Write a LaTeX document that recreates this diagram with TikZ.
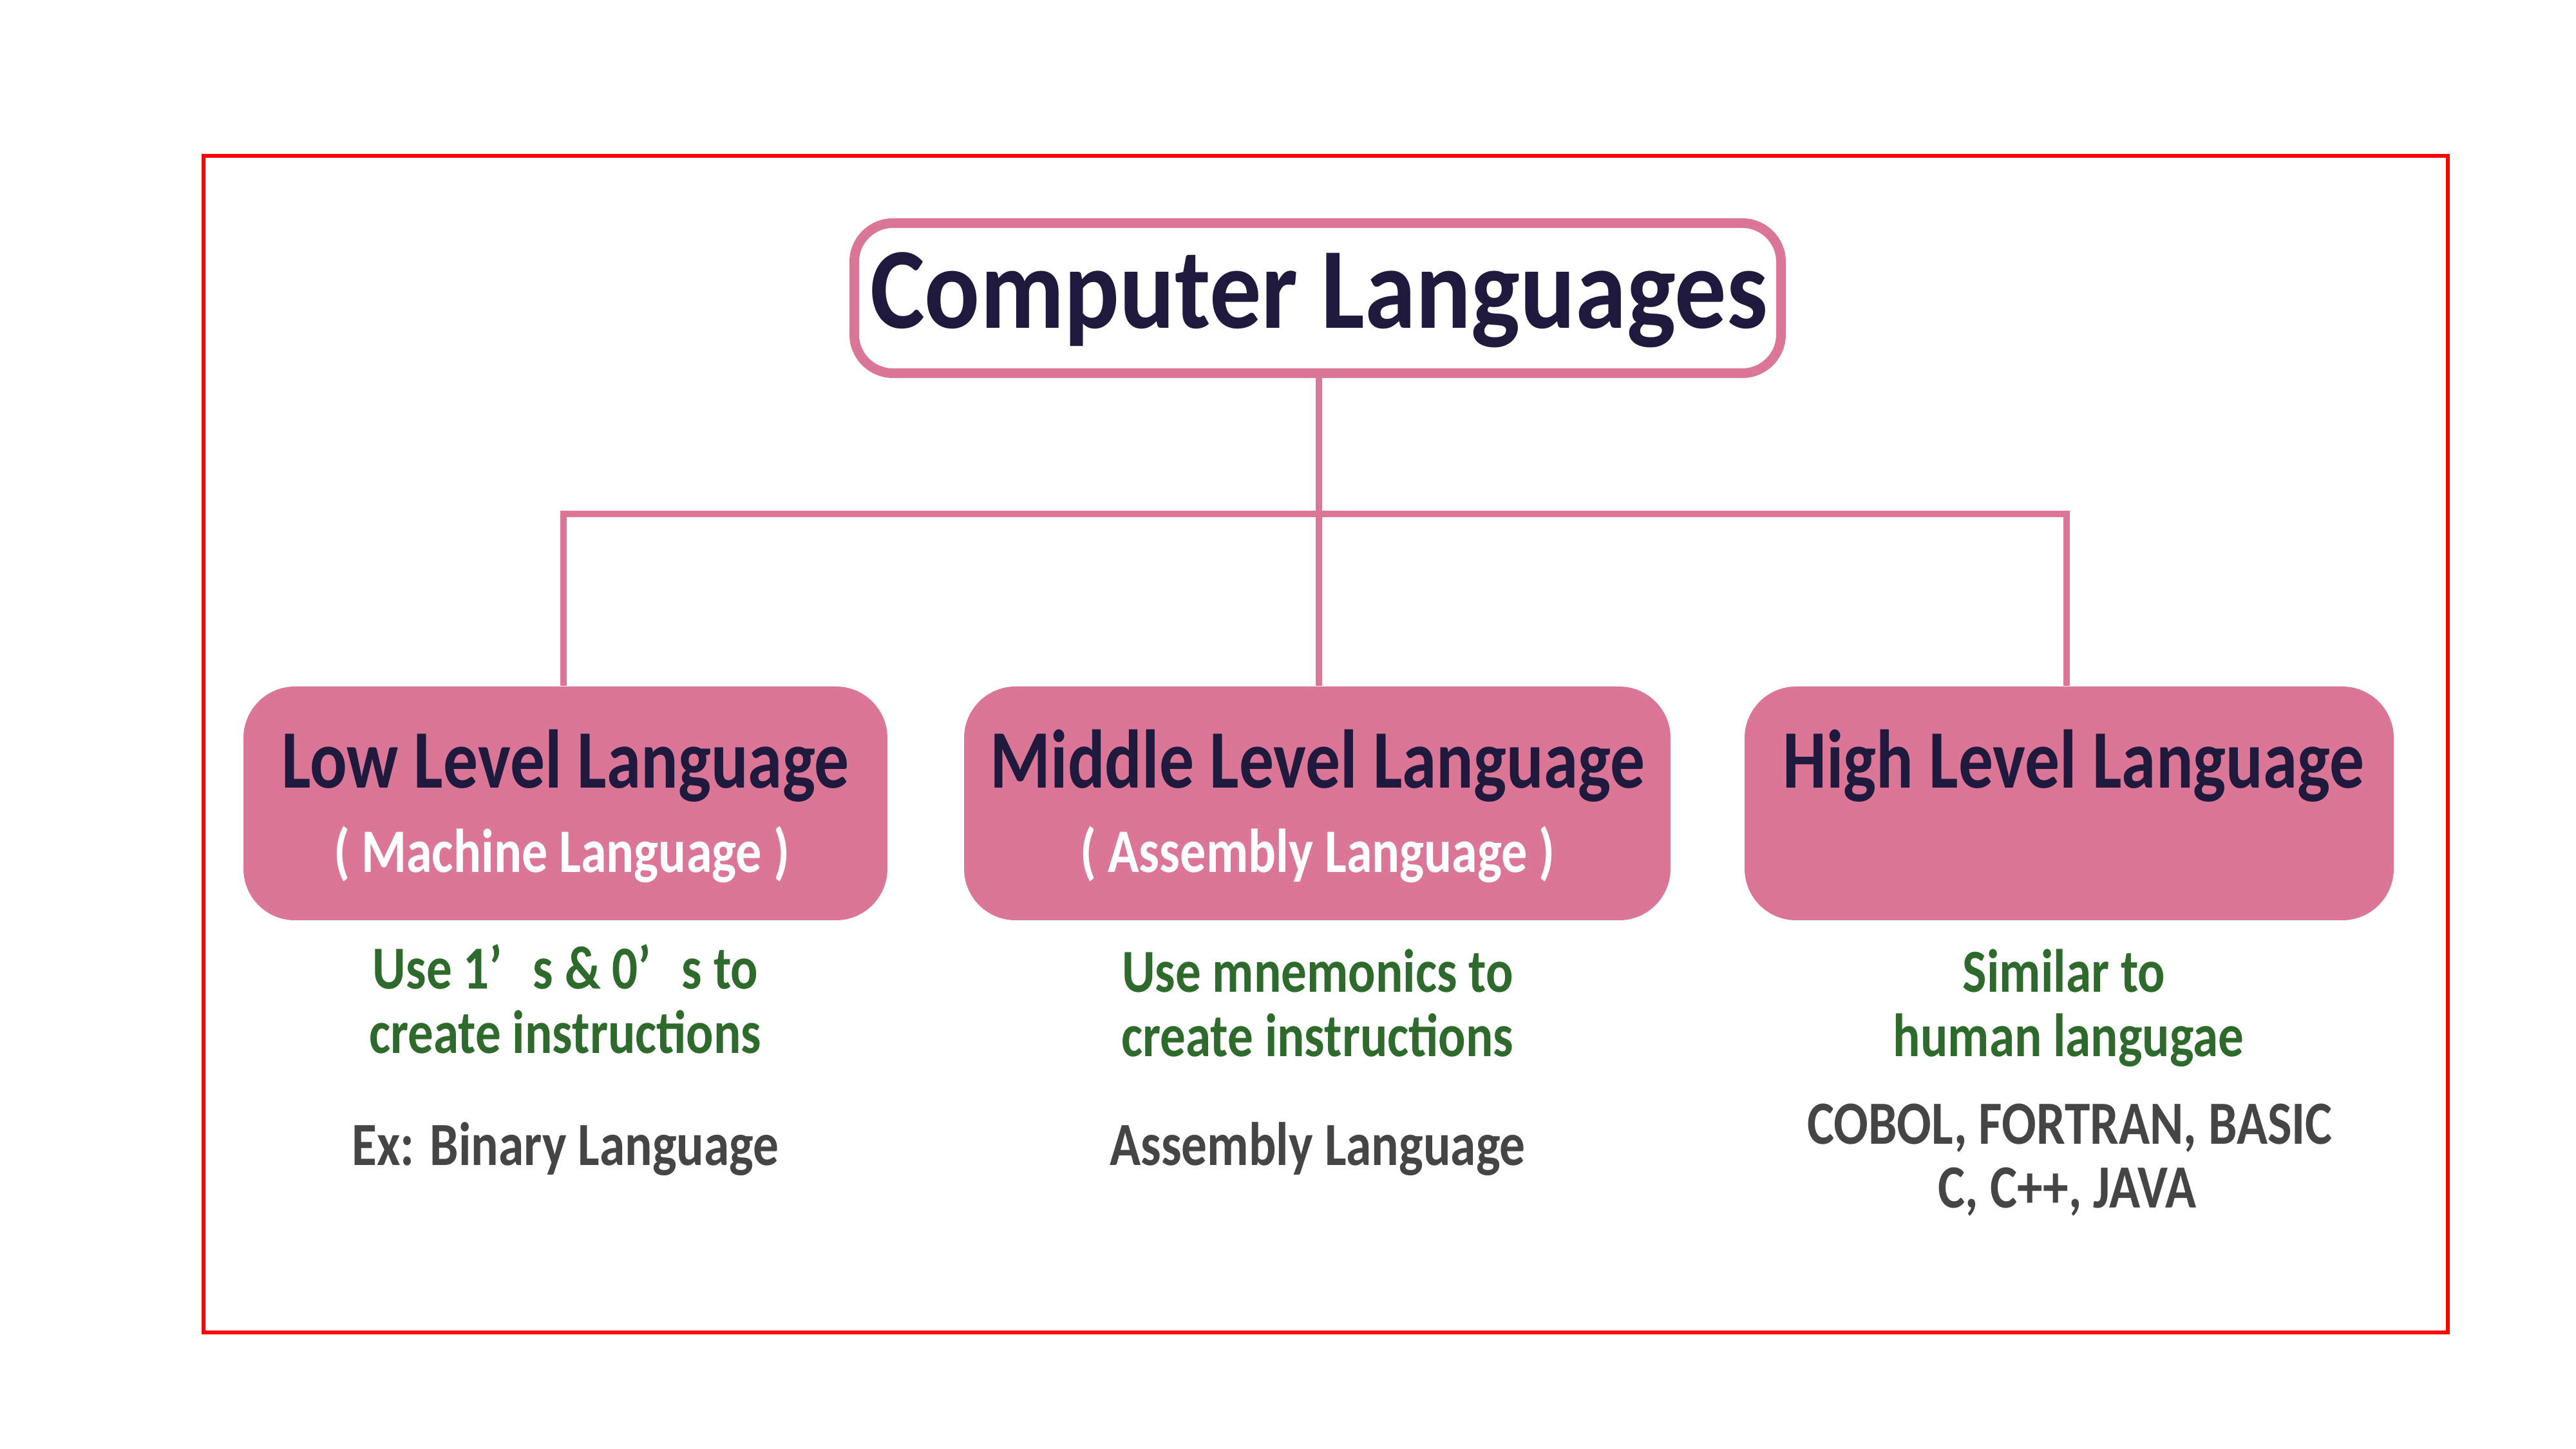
\documentclass[tikz,border=0pt]{standalone}
\usepackage{fontspec}
\setmainfont{Carlito}
\definecolor{pinkc}{HTML}{DB7696}
\definecolor{navyc}{HTML}{1F1A3D}
\definecolor{greenc}{HTML}{2E6A2B}
\definecolor{grayc}{HTML}{454545}
\begin{document}
\begin{tikzpicture}[
  titlebox/.style={rectangle, rounded corners=0.6cm, draw=pinkc, fill=white, line width=0.15cm,
    minimum width=14.39cm, minimum height=2.33cm, inner sep=0},
  lvl/.style={rectangle, rounded corners=0.8cm, fill=pinkc, minimum height=3.63cm, inner sep=0},
  conn/.style={draw=pinkc, line width=0.1cm},
  txt/.style={inner sep=0, anchor=base},
  ttl/.style={txt, text=navyc, yscale=1.12, font=\bfseries\fontsize{45.6}{54}\selectfont},
  lv/.style={txt, text=navyc, yscale=1.2, font=\bfseries\fontsize{30.6}{36}\selectfont},
  sub/.style={txt, text=white, yscale=1.2, font=\bfseries\fontsize{22.8}{27}\selectfont},
  grn/.style={txt, text=greenc, yscale=1.2, font=\bfseries\fontsize{22.5}{27}\selectfont},
  gry/.style={txt, text=grayc, yscale=1.2, font=\bfseries\fontsize{22.6}{27}\selectfont}
]
\useasboundingbox (0,0) rectangle (40,-22.5);
\draw[red, line width=0.06cm] (3.16,-2.42) rectangle (38.01,-20.69);

% boxes
\node[titlebox] (title) at (20.46,-4.63) {};
\node[lvl, minimum width=10.0cm] (low) at (8.78,-12.475) {};
\node[lvl, minimum width=10.97cm] (mid) at (20.455,-12.475) {};
\node[lvl, minimum width=10.08cm] (high) at (32.13,-12.475) {};

% connectors
\coordinate (bus) at (20.48,-7.98);
\draw[conn] (title.south -| bus) -- (bus);
\draw[conn] (bus) -- (bus |- mid.north);
\draw[conn] (low.north -| 8.75,0) |- (bus);
\draw[conn] (bus) -| (high.north -| 32.09,0);

% texts
\node[ttl] (ttext) at (20.48,-5.10) {Computer Languages};

\node[lv] (lowt) at (8.78,-12.24) {Low Level Language};
\node[sub] (lows) at (8.72,-13.55) {( Machine Language )};
\node[lv] (midt) at (20.46,-12.24) {Middle Level Language};
\node[sub] (mids) at (20.46,-13.55) {( Assembly Language )};
\node[lv] (hight) at (32.2,-12.24) {High Level Language};

\node[grn] (lowg1) at (8.78,-15.36) {Use 1’\hspace{0.6em}s \& 0’\hspace{0.6em}s to};
\node[grn] (lowg2) at (8.78,-16.35) {create instructions};
\node[gry] (lowx) at (8.78,-18.09) {Ex: Binary Language};

\node[grn] (midg1) at (20.46,-15.41) {Use mnemonics to};
\node[grn] (midg2) at (20.46,-16.40) {create instructions};
\node[gry] (midx) at (20.46,-18.09) {Assembly Language};

\node[grn] (highg1) at (32.05,-15.41) {Similar to};
\node[grn] (highg2) at (32.12,-16.40) {human langugae};
\node[gry] (highx1) at (32.14,-17.76) {COBOL, FORTRAN, BASIC};
\node[gry] (highx2) at (32.1,-18.75) {C, C++, JAVA};
\end{tikzpicture}
\end{document}
